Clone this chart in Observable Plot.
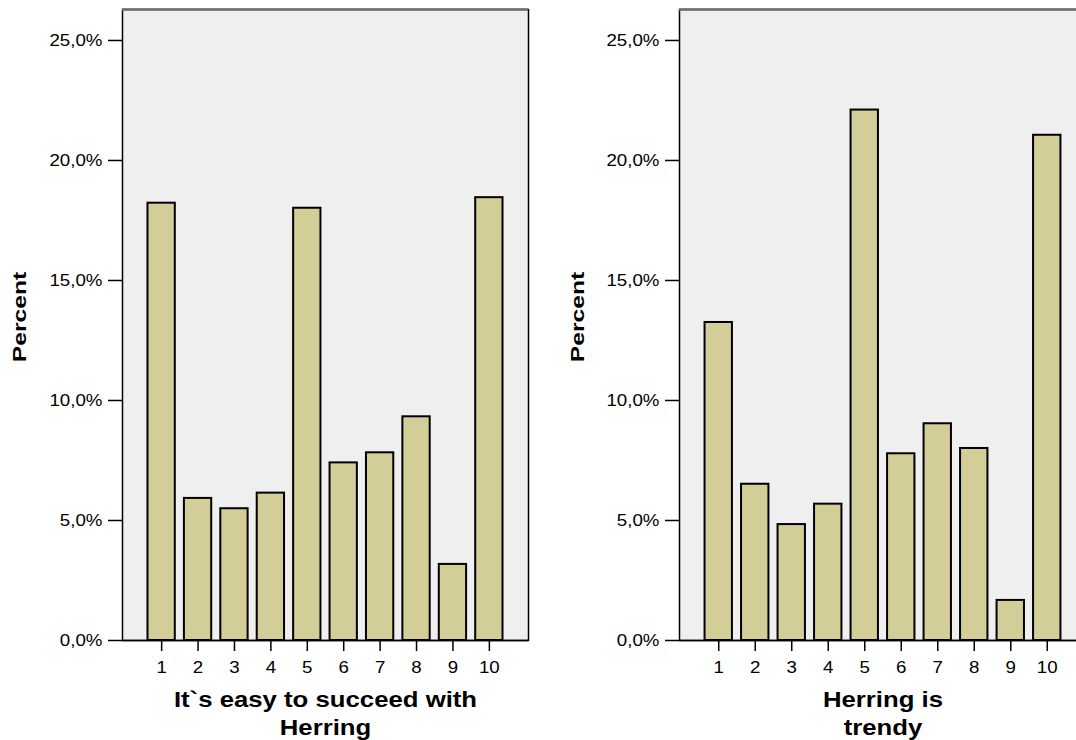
<!DOCTYPE html>
<html>
<head>
<meta charset="utf-8">
<script src="https://cdn.jsdelivr.net/npm/d3@7"></script>
<script src="https://cdn.jsdelivr.net/npm/@observablehq/plot@0.6"></script>
<style>
  html, body { margin: 0; padding: 0; background: white; }
  #wrap { position: relative; width: 1076px; height: 740px; overflow: hidden; background: white; }
  #left { position: absolute; left: 0; top: 0; width: 540px; }
  #right { position: absolute; left: 540px; top: 0; width: 560px; }
  svg { max-width: none !important; }
</style>
</head>
<body>
<div id="wrap"><div id="left"></div><div id="right"></div></div>
<script>
// ---- data ----
const categories = ["1", "2", "3", "4", "5", "6", "7", "8", "9", "10"];
const easyPercent = [18.22, 5.92, 5.49, 6.14, 18.01, 7.40, 7.82, 9.32, 3.17, 18.45];
const trendyPercent = [13.25, 6.51, 4.83, 5.68, 22.10, 7.78, 9.03, 8.00, 1.67, 21.05];
const yTicks = [0, 5, 10, 15, 20, 25];
const yMax = 26.29;
const easyTitle = "It`s easy to succeed with\nHerring";
const trendyTitle = "Herring is\ntrendy";
const yLabel = "Percent";

const fmt = d => d.toFixed(1).replace(".", ",") + "%";

function panel(values, title, width, marginLeft, marginRight, labelDx) {
  const data = categories.map((c, i) => ({cat: c, pct: values[i]}));
  return Plot.plot({
    width, height: 740,
    marginTop: 9, marginBottom: 100, marginLeft, marginRight,
    style: {fontFamily: "'Liberation Sans', Arial, sans-serif", color: "black", background: "white", overflow: "visible", maxWidth: "none"},
    x: {type: "band", domain: categories, paddingInner: 0.25, paddingOuter: 0.70, round: false},
    y: {domain: [0, yMax]},
    marks: [
      Plot.frame({fill: "#efefef", stroke: "black", strokeWidth: 1.5}),
      Plot.ruleY([yMax], {stroke: "#707070", strokeWidth: 2.5}),
      Plot.barY(data, {x: "cat", y: "pct", fill: "#d3ce97", stroke: "black", strokeWidth: 2}),
      Plot.ruleY([0], {stroke: "black", strokeWidth: 1.5}),
      Plot.axisY({ticks: yTicks, tickSize: 14, tickPadding: 6, tickFormat: fmt, fontSize: 16, strokeWidth: 1.5, label: null}),
      Plot.axisX({tickSize: 11, tickPadding: 10, fontSize: 16, strokeWidth: 1.5, label: null}),
      Plot.text([title], {frameAnchor: "bottom", lineAnchor: "top", dy: 47, fontSize: 22, fontWeight: "bold", lineHeight: 1.25}),
      Plot.text([yLabel], {frameAnchor: "left", textAnchor: "middle", rotate: -90, dx: labelDx, dy: -8, fontSize: 18, fontWeight: "bold"})
    ]
  });
}

function stretchText(svg) {
  d3.select(svg).selectAll("text").each(function () {
    const s = this.textContent === yLabel ? 1.37 : 1.17;
    const t = this.getAttribute("transform") || "";
    let x = parseFloat(this.getAttribute("x"));
    if (!isFinite(x) || /[a-z%]/i.test(this.getAttribute("x") || "")) x = 0;
    this.setAttribute("transform", `${t} translate(${x},0) scale(${s},1) translate(${-x},0)`);
  });
}

const left = panel(easyPercent, easyTitle, 540, 122, 12, -102);
const right = panel(trendyPercent, trendyTitle, 560, 139, 14, -101);
stretchText(left);
stretchText(right);
document.getElementById("left").appendChild(left);
document.getElementById("right").appendChild(right);
</script>
</body>
</html>
